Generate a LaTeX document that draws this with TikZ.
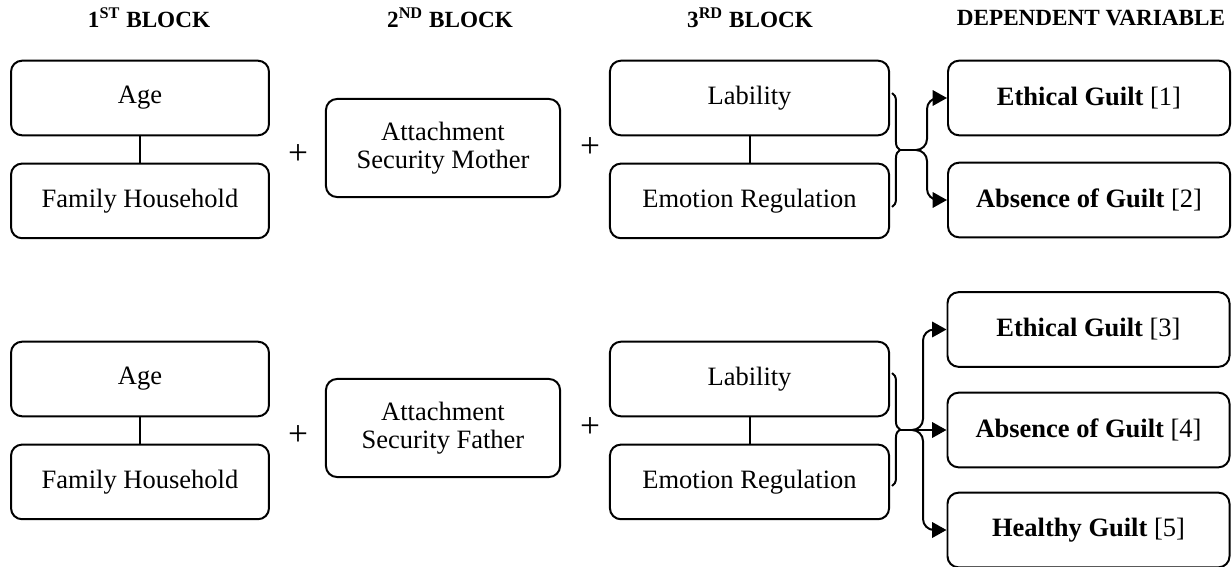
\documentclass[tikz,border=0pt]{standalone}
\usepackage{fontspec}
\setmainfont{Liberation Serif}
\usetikzlibrary{positioning,arrows.meta,decorations.pathreplacing}

\begin{document}
\begin{tikzpicture}[x=0.4528pt, y=-0.4528pt, line width=0.9pt,
  main/.style = {draw, rounded corners=5pt, minimum width=116.8pt, minimum height=33.8pt, align=center, font=\fontsize{12}{12.7}\selectfont},
  wide/.style = {main, minimum width=126.4pt},
  attach/.style = {main, minimum width=106pt, minimum height=44.4pt},
  dv/.style = {main, minimum width=127.7pt},
  head/.style = {font=\fontsize{10.5}{12}\selectfont\bfseries},
  plus/.style = {font=\fontsize{16}{16}\selectfont},
  arr/.style = {-{Triangle[length=6.5pt,width=7pt]}, rounded corners=5pt},
  brc/.style = {decorate, decoration={brace, amplitude=3.6pt}}]
\useasboundingbox (0,0) rectangle (1232,567);

% headers
\node[head] (h1) at (149,18) {1\textsuperscript{ST} BLOCK};
\node[head] (h2) at (450,18) {2\textsuperscript{ND} BLOCK};
\node[head] (h3) at (750,18) {3\textsuperscript{RD} BLOCK};
\node[head] (h4) at (1091,18) {DEPENDENT VARIABLE};

% mother
\node[main] (age1) at (140,98) {Age};
\node[main] (fam1) [below=11.9pt of age1] {Family Household};
\node[plus] (p1) at (298,155) {+};
\node[attach] (att1) at (443,148) {Attachment\\Security Mother};
\node[plus] (p2) at (590,148) {+};
\node[wide] (lab1) at (749.5,98) {Lability};
\node[wide] (emo1) [below=11.9pt of lab1] {Emotion Regulation};
\node[dv] (eg1) at (1089,98) {\textbf{Ethical Guilt} [1]};
\node[dv] (ag1) at (1089,200) {\textbf{Absence of Guilt} [2]};
\draw (age1) -- (fam1);
\draw (lab1) -- (emo1);
\coordinate (b1top) at (892,93);
\coordinate (b1bot) at (892,207);
\coordinate (tip1) at (900,150);
\draw[brc] (b1top) -- (b1bot);
\draw[arr] (tip1) -- ++(27,0) |- (eg1.west);
\draw[arr] (tip1) -- ++(27,0) |- (ag1.west);

% father
\node[main] (age2) at (140,379) {Age};
\node[main] (fam2) [below=11.9pt of age2] {Family Household};
\node[plus] (p3) at (298,436) {+};
\node[attach] (att2) at (443,428) {Attachment\\Security Father};
\node[plus] (p4) at (590,428) {+};
\node[wide] (lab2) at (749.5,379) {Lability};
\node[wide] (emo2) [below=11.9pt of lab2] {Emotion Regulation};
\node[dv] (eg2) at (1088.5,329.5) {\textbf{Ethical Guilt} [3]};
\node[dv] (ag2) at (1088.5,430) {\textbf{Absence of Guilt} [4]};
\node[dv] (hg) at (1088.5,530) {\textbf{Healthy Guilt} [5]};
\draw (age2) -- (fam2);
\draw (lab2) -- (emo2);
\coordinate (b2top) at (892,373);
\coordinate (b2bot) at (892,486);
\coordinate (tip2) at (900,430);
\draw[brc] (b2top) -- (b2bot);
\draw[arr] (tip2) -- ++(23,0) |- (eg2.west);
\draw[arr] (tip2) -- (ag2.west);
\draw[arr] (tip2) -- ++(23,0) |- (hg.west);
\end{tikzpicture}
\end{document}
